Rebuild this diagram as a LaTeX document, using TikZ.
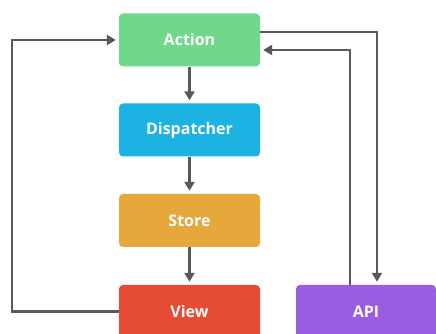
\documentclass[tikz,border=0pt]{standalone}
\usepackage{fontspec}
\setmainfont{Open Sans}
\usepackage{tikz}
\usetikzlibrary{arrows.meta}

\definecolor{actiongreen}{HTML}{6FD88A}
\definecolor{dispblue}{HTML}{1CB2E2}
\definecolor{storeorange}{HTML}{E6A83A}
\definecolor{viewred}{HTML}{E64B35}
\definecolor{apipurple}{HTML}{9A5CE3}
\definecolor{linegray}{HTML}{595959}

\begin{document}
\begin{tikzpicture}[x=1pt,y=1pt,
    box/.style={rectangle,rounded corners=4pt,minimum width=141pt,minimum height=53pt,
      text=white,font=\bfseries\fontsize{16}{18}\selectfont},
    flow/.style={draw=linegray,line width=2.4pt,
      -{Triangle[length=9pt,width=10pt]},shorten >=3pt}]
        \useasboundingbox (0,0) rectangle (436,334);
        \clip (0,0) rectangle (436,334);
        \fill[white] (0,0) rectangle (436,334);

        \node[box,fill=actiongreen] (action) at (189.5,294) {Action};
        \node[box,fill=dispblue] (dispatcher) at (189.5,204) {Dispatcher};
        \node[box,fill=storeorange] (store) at (189.5,113.5) {Store};
        \node[box,fill=viewred] (view) at (189.5,22.5) {View};
        \node[box,fill=apipurple,minimum width=140pt] (api) at (366,22.5) {API};

        \draw[flow] (action) -- (dispatcher);
        \draw[flow] (dispatcher) -- (store);
        \draw[flow] (store) -- (view);
        \draw[flow] (view.west) -- ++(-107,0) |- (action.west);
        \draw[flow] ([yshift=8pt]action.east) -| ([xshift=11pt]api.north);
        \draw[flow] ([xshift=-16pt]api.north) |- ([yshift=-10pt]action.east);
      \end{tikzpicture}
\end{document}
